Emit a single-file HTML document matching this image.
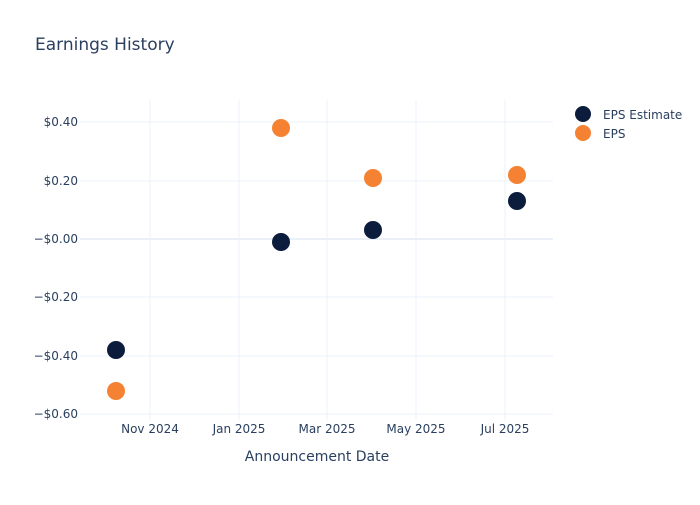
<!DOCTYPE html>
<html><head><style>
body{margin:0;background:#fff;}
svg text{font-family:"DejaVu Sans","Liberation Sans",sans-serif;fill:#2a3f5f;}
</style></head><body>
<svg width="700" height="500" xmlns="http://www.w3.org/2000/svg">
<rect width="700" height="500" fill="#fff"/>
<text x="35" y="50" font-size="17">Earnings History</text>
<g stroke="#ebf0f8" stroke-width="1">
<line x1="150" y1="100" x2="150" y2="420"/>
<line x1="239" y1="100" x2="239" y2="420"/>
<line x1="327" y1="100" x2="327" y2="420"/>
<line x1="416" y1="100" x2="416" y2="420"/>
<line x1="505" y1="100" x2="505" y2="420"/>
<line x1="80" y1="122" x2="553" y2="122"/>
<line x1="80" y1="181" x2="553" y2="181"/>
<line x1="80" y1="297" x2="553" y2="297"/>
<line x1="80" y1="356" x2="553" y2="356"/>
<line x1="80" y1="414" x2="553" y2="414"/>
</g>
<line x1="80" y1="239" x2="553" y2="239" stroke="#ebf0f8" stroke-width="2"/>
<g font-size="12" text-anchor="end">
<text x="78" y="126">$0.40</text>
<text x="78" y="185">$0.20</text>
<text x="78" y="243">−$0.00</text>
<text x="78" y="301">−$0.20</text>
<text x="78" y="360">−$0.40</text>
<text x="78" y="418">−$0.60</text>
</g>
<g font-size="12" text-anchor="middle">
<text x="150" y="433">Nov 2024</text>
<text x="239" y="433">Jan 2025</text>
<text x="327" y="433">Mar 2025</text>
<text x="416" y="433">May 2025</text>
<text x="505" y="433">Jul 2025</text>
</g>
<text x="317" y="461" font-size="14" text-anchor="middle">Announcement Date</text>
<g fill="#0c1c3c">
<circle cx="116" cy="350" r="9"/>
<circle cx="281" cy="242" r="9"/>
<circle cx="373" cy="230" r="9"/>
<circle cx="517" cy="201" r="9"/>
</g>
<g fill="#f58232">
<circle cx="116" cy="391" r="9"/>
<circle cx="281" cy="128" r="9"/>
<circle cx="373" cy="178" r="9"/>
<circle cx="517" cy="175" r="9"/>
</g>
<circle cx="583" cy="114" r="8" fill="#0c1c3c"/>
<circle cx="583" cy="133" r="8" fill="#f58232"/>
<text x="603" y="119" font-size="12">EPS Estimate</text>
<text x="603" y="138" font-size="12">EPS</text>
</svg>
</body></html>
